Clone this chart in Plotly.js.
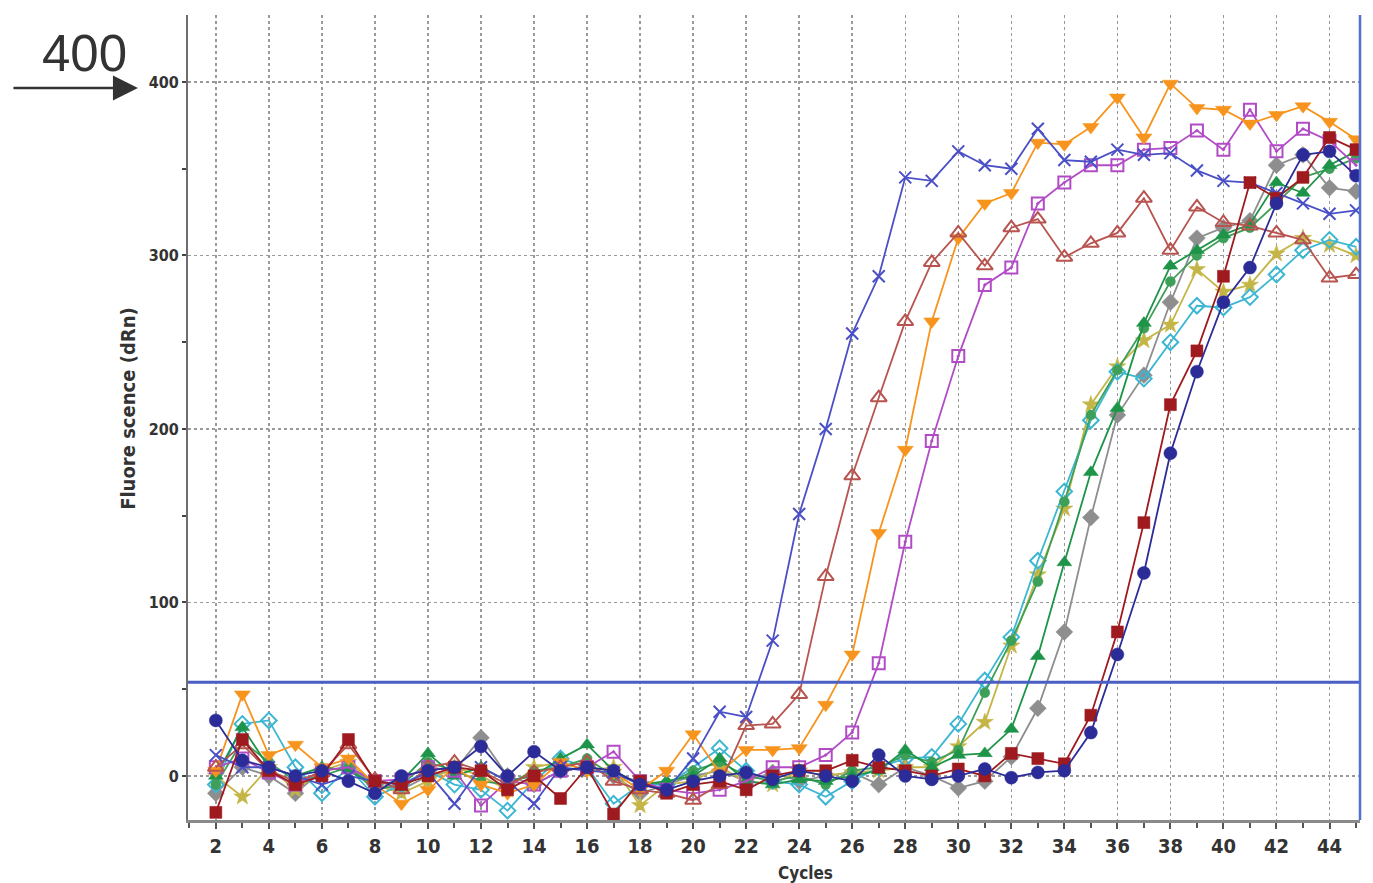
<!DOCTYPE html>
<html>
<head>
<meta charset="utf-8">
<script src="https://cdn.plot.ly/plotly-3.0.1.min.js"></script>
<style>html,body{margin:0;padding:0;background:#fff;}#chart{width:1373px;height:883px;}</style>
</head>
<body>
<div id="chart"></div>
<script>
// ---- data (cycles 2..45) ----
const cycles = [2,3,4,5,6,7,8,9,10,11,12,13,14,15,16,17,18,19,20,21,22,23,24,25,26,27,28,29,30,31,32,33,34,35,36,37,38,39,40,41,42,43,44,45];

const grayDiamond = [-10,5,0,-10,3,5,-5,-8,0,3,22,0,-5,3,5,0,-10,-5,0,3,-3,2,-3,0,2,-5,5,0,-7,-3,11,39,83,149,208,231,273,310,316,320,352,358,339,337];
const oliveStar   = [0,-12,5,-8,3,8,-5,-10,-3,5,0,-8,5,8,3,5,-17,-5,-3,5,-3,-5,3,0,2,3,5,5,17,31,75,116,154,214,236,251,260,292,279,283,301,310,306,300];
const cyanDiamond = [-5,30,32,5,-10,5,-12,-5,3,-5,-8,-20,-3,10,5,-16,-5,-5,5,16,3,-3,-5,-12,-3,5,10,11,30,55,80,124,164,205,233,229,250,271,270,276,289,303,309,305];
const green2Circle= [-5,20,8,-3,0,5,-8,-5,8,3,-3,-5,3,5,10,0,-3,-5,3,8,0,-3,0,-5,3,5,12,8,15,48,78,112,158,208,234,258,285,300,310,316,330,345,350,356];
const greenTri    = [0,28,5,0,5,3,-5,-3,13,0,5,-3,0,10,18,3,-5,-3,0,10,-3,-5,-2,-3,0,3,15,5,12,13,27,69,123,175,212,261,294,303,312,318,342,336,352,360];
const violetSquare= [5,10,2,-5,3,5,-3,-2,5,3,-17,-3,-5,3,5,14,-3,-8,-10,-8,-3,5,5,12,25,65,135,193,242,283,293,330,342,352,352,361,362,372,361,384,360,373,366,352];
const orangeTri   = [3,47,12,18,5,10,-5,-16,-8,5,-5,-10,-5,8,3,2,-8,3,24,2,15,15,16,41,70,140,188,262,310,330,336,365,364,374,391,368,399,385,384,376,381,386,377,367];
const brownTri    = [5,18,3,-3,2,18,-2,-8,5,8,3,-5,2,5,8,-3,-8,-10,-14,-5,29,30,47,115,173,218,262,296,313,294,316,321,299,307,313,333,303,328,319,317,313,309,287,289];
const blueCross   = [12,5,5,0,-5,0,-3,-5,2,-16,5,-3,-16,5,3,2,-5,-8,10,37,34,78,151,200,255,288,345,343,360,352,350,373,355,354,361,358,359,349,343,342,336,330,324,326];
const darkRedSq   = [-21,21,3,-5,0,21,-3,-5,0,5,3,-8,0,-13,5,-22,-3,-10,-5,-3,-8,0,3,3,9,5,3,0,4,0,13,10,7,35,83,146,214,245,288,342,333,345,368,361];
const navyCircle  = [32,9,5,0,3,-3,-10,0,3,5,17,0,14,3,5,3,-5,-8,-3,0,2,-2,3,0,-3,12,0,-2,0,4,-1,2,3,25,70,117,186,233,273,293,330,358,360,346];

const threshold = 54;
const xTickVals = [2,4,6,8,10,12,14,16,18,20,22,24,26,28,30,32,34,36,38,40,42,44];
const yTickVals = [0,100,200,300,400];

// ---- styling ----
const series = [
  {name:'gray',   y:grayDiamond,  color:'#8e8e8e', symbol:'diamond',          size:13},
  {name:'olive',  y:oliveStar,    color:'#c4b646', symbol:'star',             size:13},
  {name:'cyan',   y:cyanDiamond,  color:'#3bb6d3', symbol:'diamond-open',     size:12},
  {name:'green2', y:green2Circle, color:'#3e9f58', symbol:'circle',           size:10},
  {name:'green',  y:greenTri,     color:'#1d9448', symbol:'triangle-up',      size:13},
  {name:'violet', y:violetSquare, color:'#b24cc6', symbol:'square-open-dot',  size:12},
  {name:'orange', y:orangeTri,    color:'#f7941d', symbol:'triangle-down',    size:14},
  {name:'brown',  y:brownTri,     color:'#b8544f', symbol:'triangle-up-open', size:14},
  {name:'blue',   y:blueCross,    color:'#4a4fc6', symbol:'x-thin-open',      size:12},
  {name:'darkred',y:darkRedSq,    color:'#9e1a1f', symbol:'square',           size:12},
  {name:'navy',   y:navyCircle,   color:'#2b2c98', symbol:'circle',           size:13}
];

const traces = series.map(s => ({
  x: cycles, y: s.y, name: s.name, type: 'scatter', mode: 'lines+markers',
  line: {color: s.color, width: 1.8},
  marker: {symbol: s.symbol, size: s.size, color: s.color,
           line: {color: s.color, width: s.symbol.indexOf('open') >= 0 || s.symbol.indexOf('thin') >= 0 ? 2 : 0.5}},
  showlegend: false, hoverinfo: 'x+y'
}));

const narrow = 'Liberation Sans Narrow, DejaVu Sans Condensed, sans-serif';
const tickFont = {family: narrow, size: 20, color: '#333', weight: 'bold'};

const layout = {
  width: 1373, height: 883,
  margin: {l: 188, r: 13, t: 15, b: 63},
  paper_bgcolor: '#fff', plot_bgcolor: '#fff',
  showlegend: false,
  xaxis: {
    range: [0.95, 45.15], tickmode: 'array', tickvals: xTickVals,
    ticks: 'outside', ticklen: 6, tickwidth: 2, tickcolor: '#555',
    ticklabelstandoff: 0,
    tickfont: tickFont,
    showgrid: true, gridcolor: '#9a9a9a', griddash: 'dot', gridwidth: 1.5,
    zeroline: false, showline: true, linecolor: '#8a8a8a', linewidth: 3,
    minor: {tickmode: 'linear', tick0: 1, dtick: 1, ticks: 'outside', ticklen: 5, tickwidth: 2, tickcolor: '#555', showgrid: false}
  },
  yaxis: {
    range: [-25.4, 438.6], tickmode: 'array', tickvals: yTickVals,
    ticks: 'outside', ticklen: 4, tickwidth: 2, tickcolor: '#444',
    tickfont: {family: narrow, size: 16, color: '#333', weight: 'bold'},
    showgrid: true, gridcolor: '#9a9a9a', griddash: 'dot', gridwidth: 1.5,
    zeroline: false, showline: true, linecolor: '#6e6e6e', linewidth: 2,
    minor: {tickmode: 'linear', tick0: 0, dtick: 50, ticks: 'outside', ticklen: 4, tickwidth: 2, tickcolor: '#444', showgrid: false}
  },
  shapes: [
    {type: 'line', xref: 'paper', x0: 0, x1: 1, yref: 'y', y0: threshold, y1: threshold,
     line: {color: '#4a5ec4', width: 3}},
    {type: 'line', xref: 'paper', x0: 1, x1: 1, yref: 'paper', y0: 0, y1: 1,
     line: {color: '#4f72d0', width: 2.5}}
  ],
  annotations: [
    {xref: 'paper', yref: 'paper', x: -0.0879, y: 0.952, xanchor: 'center', yanchor: 'middle',
     text: '400', showarrow: false,
     font: {family: 'Liberation Sans, Arial, sans-serif', size: 51, color: '#333'}},
    {xref: 'paper', yref: 'paper', x: -0.0427, y: 0.9093, ax: -126, ay: 0,
     text: '', showarrow: true, arrowhead: 2, arrowsize: 2, arrowwidth: 2.5, arrowcolor: '#333'},
    {xref: 'paper', yref: 'paper', x: -0.0512, y: 0.512, xanchor: 'center', yanchor: 'middle',
     text: 'Fluore scence (dRn)', textangle: -90, showarrow: false,
     font: {family: narrow, size: 20, color: '#333', weight: 'bold'}},
    {xref: 'paper', yref: 'paper', x: (805 - 188) / 1172, y: (820 - 873) / 805, xanchor: 'center', yanchor: 'middle',
     text: 'Cycles', showarrow: false,
     font: {family: narrow, size: 17, color: '#333', weight: 'bold'}}
  ]
};

Plotly.newPlot('chart', traces, layout, {displayModeBar: false, staticPlot: true});
</script>
</body>
</html>
